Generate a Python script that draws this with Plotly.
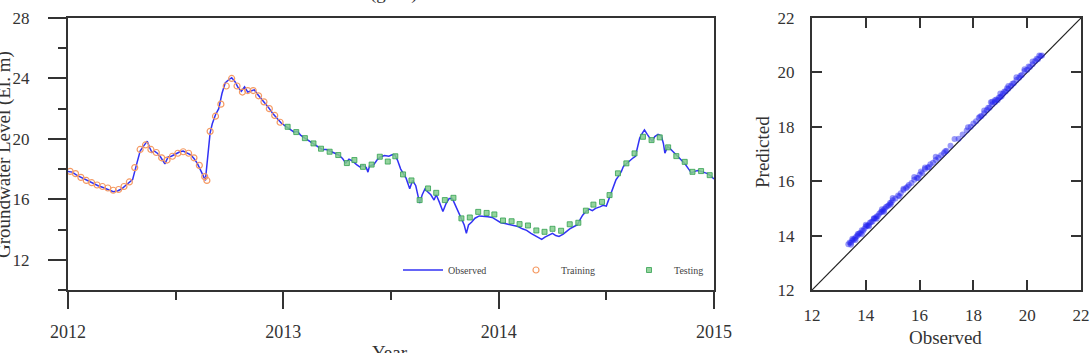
import plotly.graph_objects as go

# ---------------- data ----------------
obs_t = [2012.00, 2012.02, 2012.04, 2012.06, 2012.08, 2012.10, 2012.12, 2012.14, 2012.16, 2012.18,
         2012.20, 2012.21, 2012.23, 2012.25, 2012.27, 2012.29, 2012.30, 2012.32, 2012.335, 2012.35,
         2012.368, 2012.38, 2012.39, 2012.40, 2012.415, 2012.43, 2012.45, 2012.465, 2012.48, 2012.50,
         2012.52, 2012.535, 2012.55, 2012.57, 2012.585, 2012.60, 2012.615, 2012.63, 2012.638, 2012.66,
         2012.67, 2012.685, 2012.70, 2012.715, 2012.73, 2012.745, 2012.76, 2012.775, 2012.79, 2012.805,
         2012.82, 2012.835, 2012.85, 2012.865, 2012.88, 2012.895, 2012.91, 2012.93, 2012.95, 2012.97,
         2012.99, 2013.01, 2013.03, 2013.05, 2013.065, 2013.08, 2013.10, 2013.12, 2013.14, 2013.16,
         2013.18, 2013.20, 2013.215, 2013.235, 2013.255, 2013.275, 2013.29, 2013.305, 2013.32, 2013.34,
         2013.355, 2013.37, 2013.385, 2013.393, 2013.40, 2013.42, 2013.435, 2013.45, 2013.47, 2013.49,
         2013.505, 2013.517, 2013.53, 2013.545, 2013.556, 2013.57, 2013.587, 2013.60, 2013.615, 2013.633,
         2013.645, 2013.658, 2013.67, 2013.685, 2013.70, 2013.71, 2013.725, 2013.741, 2013.755, 2013.77,
         2013.785, 2013.80, 2013.815, 2013.827, 2013.84, 2013.85, 2013.86, 2013.875, 2013.89, 2013.91,
         2013.93, 2013.95, 2013.97, 2013.99, 2014.01, 2014.03, 2014.05, 2014.07, 2014.09, 2014.11,
         2014.13, 2014.15, 2014.17, 2014.19, 2014.20, 2014.215, 2014.23, 2014.25, 2014.265, 2014.28,
         2014.30, 2014.315, 2014.33, 2014.35, 2014.365, 2014.38, 2014.39, 2014.405, 2014.42, 2014.435,
         2014.45, 2014.47, 2014.485, 2014.50, 2014.515, 2014.53, 2014.545, 2014.555, 2014.57, 2014.58,
         2014.595, 2014.61, 2014.625, 2014.635, 2014.645, 2014.655, 2014.668, 2014.677, 2014.69, 2014.70,
         2014.712, 2014.725, 2014.74, 2014.755, 2014.765, 2014.772, 2014.785, 2014.80, 2014.817, 2014.835,
         2014.85, 2014.865, 2014.88, 2014.895, 2014.91, 2014.925, 2014.94, 2014.955, 2014.97, 2014.985,
         2015.00]
obs_y = [17.85, 17.8, 17.6, 17.45, 17.3, 17.15, 17.0, 16.9, 16.8, 16.7,
         16.6, 16.5, 16.55, 16.7, 16.95, 17.2, 17.3, 18.4, 19.2, 19.5,
         19.85, 19.4, 19.1, 19.2, 19.05, 18.8, 18.35, 18.8, 18.85, 19.0,
         19.15, 19.2, 19.1, 18.95, 18.7, 18.4, 17.95, 17.5, 17.25, 20.4,
         21.0, 21.6, 22.0, 23.0, 23.7, 23.9, 24.05, 23.8, 23.4, 23.15,
         23.45, 23.1, 23.2, 23.25, 22.95, 22.7, 22.5, 22.1, 21.7, 21.35,
         21.05, 20.85, 20.65, 20.45, 20.5, 20.25, 20.05, 19.85, 19.7, 19.45,
         19.3, 19.3, 19.2, 19.05, 18.95, 18.7, 18.4, 18.65, 18.55, 18.3,
         18.15, 18.25, 18.1, 17.8, 18.2, 18.3, 18.6, 18.8, 18.9, 18.85,
         18.95, 18.95, 18.6, 18.0, 17.7, 17.4, 16.7, 17.25, 16.9, 15.75,
         16.3, 16.7, 16.5, 16.3, 15.95, 16.3, 15.8, 15.2, 15.7, 16.05,
         16.05, 15.6, 15.1, 14.75, 14.3, 13.75, 14.3, 14.5, 14.75, 14.9,
         14.9, 14.85, 14.8, 14.6, 14.45, 14.4, 14.35, 14.3, 14.2, 14.05,
         13.95, 13.75, 13.6, 13.4, 13.35, 13.5, 13.6, 13.75, 13.6, 13.55,
         13.7, 13.9, 14.05, 14.2, 14.3, 14.7, 14.95, 15.2, 15.35, 15.25,
         15.4, 15.5, 15.6, 15.55, 16.15, 16.8, 17.3, 17.5, 17.85, 18.2,
         18.4, 18.55, 18.75, 18.85, 19.5, 20.05, 20.4, 20.6, 20.3, 20.05,
         19.85, 20.15, 20.3, 20.2, 19.7, 19.05, 19.5, 19.3, 19.05, 18.8,
         18.6, 18.35, 18.05, 17.75, 17.85, 17.9, 17.85, 17.8, 17.7, 17.55,
         17.35]

train_t = [2012.01, 2012.035, 2012.06, 2012.085, 2012.11, 2012.135, 2012.16, 2012.185, 2012.21, 2012.235,
           2012.26, 2012.285, 2012.31, 2012.335, 2012.36, 2012.385, 2012.41, 2012.435, 2012.46, 2012.485,
           2012.51, 2012.535, 2012.56, 2012.585, 2012.61, 2012.635, 2012.645, 2012.66, 2012.685, 2012.71,
           2012.735, 2012.76, 2012.785, 2012.81, 2012.835, 2012.86, 2012.885, 2012.91, 2012.935, 2012.96,
           2012.985]
train_y = [17.85, 17.7, 17.45, 17.25, 17.1, 16.95, 16.85, 16.75, 16.6, 16.65,
           16.85, 17.15, 18.1, 19.3, 19.6, 19.3, 19.1, 18.75, 18.6, 18.85,
           19.05, 19.15, 19.05, 18.75, 18.25, 17.5, 17.25, 20.5, 21.5, 22.3,
           23.5, 24.0, 23.5, 23.1, 23.2, 23.2, 22.85, 22.45, 22.0, 21.55,
           21.1]

test_t = [2013.02, 2013.06, 2013.10, 2013.14, 2013.175, 2013.215, 2013.255, 2013.295, 2013.33, 2013.37,
          2013.41, 2013.448, 2013.485, 2013.52, 2013.556, 2013.595, 2013.633, 2013.672, 2013.71, 2013.75,
          2013.79, 2013.827, 2013.866, 2013.905, 2013.944, 2013.98, 2014.02, 2014.06, 2014.097, 2014.136,
          2014.175, 2014.213, 2014.25, 2014.29, 2014.33, 2014.37, 2014.405, 2014.44, 2014.48, 2014.515,
          2014.554, 2014.593, 2014.631, 2014.67, 2014.71, 2014.748, 2014.787, 2014.825, 2014.864, 2014.90,
          2014.94, 2014.98]
test_y = [20.8, 20.45, 20.05, 19.7, 19.35, 19.15, 18.93, 18.4, 18.6, 18.15,
          18.3, 18.82, 18.5, 18.85, 17.65, 17.25, 15.95, 16.72, 16.43, 15.95,
          16.1, 14.74, 14.8, 15.17, 15.1, 15.0, 14.6, 14.55, 14.36, 14.27,
          13.94, 13.85, 14.05, 13.92, 14.35, 14.45, 15.25, 15.65, 15.83, 16.28,
          17.72, 18.38, 19.04, 20.14, 19.92, 20.1, 19.44, 18.86, 18.48, 17.82,
          17.87, 17.6]

scat_obs = [13.35, 13.4, 13.45, 13.5, 13.55, 13.6, 13.65, 13.7, 13.75, 13.8,
            13.85, 13.9, 13.95, 14.0, 14.05, 14.1, 14.15, 14.2, 14.25, 14.3,
            14.35, 14.4, 14.45, 14.5, 14.55, 14.6, 14.65, 14.7, 14.75, 14.8,
            14.85, 14.9, 14.95, 15.0, 15.1, 15.2, 15.3, 15.4, 15.5, 15.6,
            15.7, 15.8, 15.9, 16.0, 16.1, 16.2, 16.3, 16.4, 16.5, 16.6,
            16.7, 16.8, 16.9, 17.0, 17.15, 17.3, 17.45, 17.6, 17.75, 17.9,
            18.0, 18.1, 18.2, 18.3, 18.4, 18.5, 18.6, 18.7, 18.8, 18.85,
            18.9, 18.95, 19.0, 19.05, 19.1, 19.2, 19.3, 19.4, 19.5, 19.6,
            19.7, 19.8, 19.9, 20.0, 20.1, 20.2, 20.3, 20.4, 20.5, 20.55,
            13.5, 13.7, 14.0, 14.3, 14.6, 15.0, 15.4, 15.8, 16.2, 16.6,
            18.4, 18.7, 19.0, 19.3, 19.6, 19.9, 20.2, 20.45,
            13.45, 13.62, 13.85, 14.12, 14.4, 14.68, 14.92, 15.25, 15.55, 15.95,
            16.35, 16.05, 18.25, 18.55, 18.8, 19.15, 19.45, 19.75, 20.05, 20.35,
            18.65, 19.25, 17.8, 16.95]
scat_pred = [13.68, 13.75, 13.74, 13.82, 13.86, 13.9, 13.97, 14.0, 14.08, 14.1,
             14.2, 14.18, 14.25, 14.33, 14.36, 14.38, 14.47, 14.5, 14.52, 14.62,
             14.64, 14.7, 14.72, 14.8, 14.86, 14.88, 14.92, 14.99, 15.05, 15.08,
             15.12, 15.2, 15.22, 15.3, 15.36, 15.47, 15.56, 15.68, 15.75, 15.86,
             15.93, 16.05, 16.12, 16.24, 16.3, 16.45, 16.5, 16.62, 16.68, 16.78,
             16.86, 16.95, 17.04, 17.12, 17.3, 17.55, 17.56, 17.72, 17.86, 18.0,
             18.12, 18.2, 18.33, 18.4, 18.5, 18.62, 18.7, 18.83, 18.9, 19.0,
             18.98, 19.08, 19.1, 19.12, 19.22, 19.3, 19.4, 19.5, 19.6, 19.72,
             19.8, 19.9, 20.05, 20.1, 20.2, 20.3, 20.42, 20.48, 20.6, 20.62,
             13.88, 14.06, 14.4, 14.64, 14.97, 15.38, 15.72, 16.15, 16.5, 16.9,
             18.6, 18.92, 19.22, 19.5, 19.82, 20.12, 20.4, 20.62,
             13.66, 13.84, 14.05, 14.34, 14.62, 14.88, 15.14, 15.45, 15.8, 16.12,
             16.52, 16.36, 18.38, 18.7, 18.98, 19.3, 19.58, 19.88, 20.22, 20.5,
             18.9, 19.42, 17.98, 17.1]

diag = [12, 22]
year_ticks = [2012, 2013, 2014, 2015]
year_minor = [2012.5, 2013.5, 2014.5]
level_ticks = [12, 16, 20, 24, 28]
level_minor = [10, 14, 18, 22, 26]
sc_ticks = [12, 14, 16, 18, 20, 22]

# ---------------- figure ----------------
W, H = 1092, 353
FONT = "Liberation Serif"
AX = "#333333"


def px_x(p):
    return p / W


def px_y(p):
    return (H - p) / H


fig = go.Figure()

fig.add_trace(go.Scatter(x=obs_t, y=obs_y, mode="lines", name="Observed",
                         line=dict(color="rgb(50,50,245)", width=1.5),
                         xaxis="x", yaxis="y"))
fig.add_trace(go.Scatter(x=train_t, y=train_y, mode="markers", name="Training",
                         marker=dict(symbol="circle-open", size=6, color="rgb(245,155,100)",
                                     line=dict(width=1.2)),
                         xaxis="x", yaxis="y"))
fig.add_trace(go.Scatter(x=test_t, y=test_y, mode="markers", name="Testing",
                         marker=dict(symbol="square", size=5, color="rgba(130,205,140,0.85)",
                                     line=dict(width=0.8, color="rgb(50,160,80)")),
                         xaxis="x", yaxis="y"))

fig.add_trace(go.Scatter(x=diag, y=diag, mode="lines", showlegend=False,
                         line=dict(color="#222222", width=1.2),
                         xaxis="x2", yaxis="y2"))
fig.add_trace(go.Scatter(x=scat_obs, y=scat_pred, mode="markers", showlegend=False,
                         marker=dict(symbol="circle", size=6, color="rgba(30,30,240,0.45)",
                                     line=dict(width=0)),
                         xaxis="x2", yaxis="y2"))

xfont = dict(family=FONT, size=18, color="#333333")
yfont = dict(family=FONT, size=17, color="#333333")
sfont = dict(family=FONT, size=17, color="#333333")

fig.update_layout(
    width=W, height=H,
    margin=dict(l=0, r=0, t=0, b=0, autoexpand=False),
    paper_bgcolor="white", plot_bgcolor="white",
    font=dict(family=FONT, color="#333333"),
    xaxis=dict(domain=[px_x(68), px_x(714)], range=[2012, 2015],
               tickvals=year_ticks, ticktext=[str(v) for v in year_ticks],
               ticks="outside", ticklen=17, tickwidth=1.5, tickcolor=AX,
               minor=dict(tickvals=year_minor, ticks="outside", ticklen=8, tickwidth=1.5, tickcolor=AX),
               showline=True, linecolor=AX, linewidth=2, mirror=True,
               showgrid=False, zeroline=False, tickfont=xfont, ticklabelstandoff=7,
               automargin=False, anchor="y"),
    yaxis=dict(domain=[px_y(290), px_y(18)], range=[10, 28],
               tickvals=level_ticks, ticks="outside", ticklen=18, tickwidth=1.5, tickcolor=AX,
               minor=dict(tickvals=level_minor, ticks="outside", ticklen=8, tickwidth=1.5, tickcolor=AX),
               showline=True, linecolor=AX, linewidth=2, mirror=True,
               showgrid=False, zeroline=False, tickfont=yfont, ticklabelstandoff=15,
               automargin=False, anchor="x"),
    xaxis2=dict(domain=[px_x(812), px_x(1081)], range=[12, 22],
                tickvals=sc_ticks, ticks="inside", ticklen=10, tickwidth=1.5, tickcolor=AX,
                showline=True, linecolor=AX, linewidth=2, mirror="allticks",
                showgrid=False, zeroline=False, tickfont=sfont, ticklabelstandoff=9,
                automargin=False, anchor="y2"),
    yaxis2=dict(domain=[px_y(290), px_y(18)], range=[12, 22],
                tickvals=sc_ticks, ticks="inside", ticklen=10, tickwidth=1.5, tickcolor=AX,
                showline=True, linecolor=AX, linewidth=2, mirror="allticks",
                showgrid=False, zeroline=False, tickfont=sfont, ticklabelstandoff=12,
                automargin=False, anchor="x2"),
    legend=dict(orientation="h", x=px_x(398), y=px_y(270), xanchor="left", yanchor="middle",
                font=dict(family=FONT, size=10, color="#444444"),
                bgcolor="rgba(0,0,0,0)", entrywidth=58, entrywidthmode="pixels",
                itemwidth=40),
    showlegend=True,
)

ann_font = dict(family=FONT, size=19, color="#333333")
fig.add_annotation(text="Groundwater Level (El. m)", textangle=-90, x=px_x(4), y=px_y(155),
                   xref="paper", yref="paper", showarrow=False, font=ann_font,
                   xanchor="center", yanchor="middle")
fig.add_annotation(text="Year", x=px_x(390), y=px_y(340), xref="paper", yref="paper",
                   showarrow=False, font=ann_font, xanchor="center", yanchor="top")
fig.add_annotation(text="(g - 2)", x=px_x(393), y=px_y(6), xref="paper", yref="paper",
                   showarrow=False, font=ann_font, xanchor="center", yanchor="bottom")
fig.add_annotation(text="Predicted", textangle=-90, x=px_x(762), y=px_y(152),
                   xref="paper", yref="paper", showarrow=False, font=ann_font,
                   xanchor="center", yanchor="middle")
fig.add_annotation(text="Observed", x=px_x(945), y=px_y(337), xref="paper", yref="paper",
                   showarrow=False, font=ann_font, xanchor="center", yanchor="middle")

fig.write_html("out.html")
